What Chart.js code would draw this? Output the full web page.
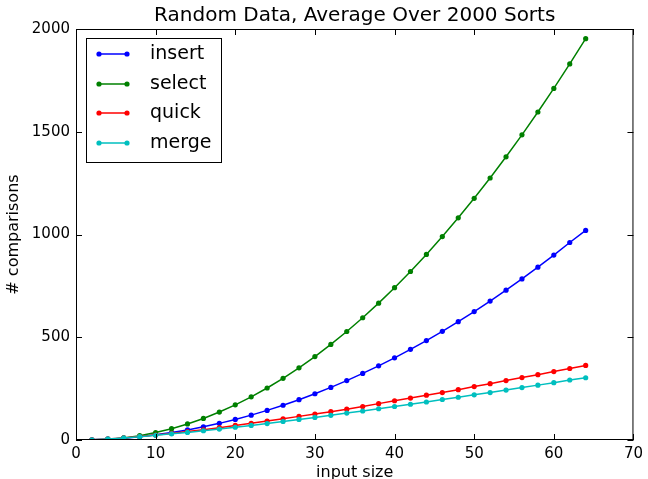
<!DOCTYPE html>
<html>
<head>
<meta charset="utf-8">
<script src="https://cdn.jsdelivr.net/npm/chart.js@4.4.1/dist/chart.umd.min.js"></script>
<style>
  html, body { margin: 0; padding: 0; background: #fff; }
  canvas { display: block; }
</style>
</head>
<body>
<canvas id="myChart" width="648" height="479"></canvas>
<script>
// input sizes (x) and average comparison counts
const sizes  = [2, 4, 6, 8, 10, 12, 14, 16, 18, 20, 22, 24, 26, 28, 30, 32,
                34, 36, 38, 40, 42, 44, 46, 48, 50, 52, 54, 56, 58, 60, 62, 64];
const insert = [1, 4, 9, 16, 25, 36, 49, 64, 81, 100, 121, 144, 169, 196, 225, 256,
                289, 324, 361, 400, 441, 484, 529, 576, 625, 676, 729, 784, 841, 900, 961, 1020];
const select = [0, 3, 10, 21, 36, 55, 78, 105, 136, 171, 210, 253, 300, 351, 406, 465,
                528, 595, 666, 741, 820, 903, 990, 1081, 1176, 1275, 1378, 1485, 1596, 1711, 1830, 1953];
const quick  = [1, 5, 10, 17, 24, 32, 41, 50, 60, 71, 81, 92, 103, 115, 126, 138,
                150, 163, 177, 191, 204, 218, 231, 245, 260, 274, 289, 304, 318, 333, 348, 363];
const merge  = [1, 5, 10, 16, 23, 30, 37, 45, 53, 62, 71, 80, 90, 100, 110, 120,
                131, 141, 152, 163, 174, 185, 197, 208, 220, 231, 243, 255, 267, 279, 292, 303];

const seriesNames  = ['insert', 'select', 'quick', 'merge'];
const seriesColors = ['#0000ff', '#008000', '#ff0000', '#00bfbf'];
const xTicks = [0, 10, 20, 30, 40, 50, 60, 70];
const yTicks = [0, 500, 1000, 1500, 2000];

const FONT = 'DejaVu Sans';

const toPoints = (vals) => sizes.map((s, i) => ({x: s, y: vals[i]}));

// box round the axes, inward ticks on all sides, and the legend in the corner
const framePlugin = {
  id: 'frame',
  afterDatasetsDraw(chart) {
    const {ctx, chartArea: a, scales: {x, y}} = chart;
    const tl = 6;
    ctx.save();
    ctx.strokeStyle = '#000';
    ctx.lineWidth = 1;
    ctx.strokeRect(a.left + 0.5, a.top + 0.5, a.right - a.left - 1, a.bottom - a.top - 1);
    ctx.beginPath();
    xTicks.forEach(v => {
      const px = Math.round(x.getPixelForValue(v)) + 0.5;
      ctx.moveTo(px, a.bottom); ctx.lineTo(px, a.bottom - tl);
      ctx.moveTo(px, a.top); ctx.lineTo(px, a.top + tl);
    });
    yTicks.forEach(v => {
      const py = Math.round(y.getPixelForValue(v)) + 0.5;
      ctx.moveTo(a.left, py); ctx.lineTo(a.left + tl, py);
      ctx.moveTo(a.right, py); ctx.lineTo(a.right - tl, py);
    });
    ctx.stroke();

    // legend
    const bx = 86, by = 38, bw = 135, bh = 124;
    ctx.fillStyle = '#fff';
    ctx.fillRect(bx, by, bw, bh);
    ctx.strokeRect(bx + 0.5, by + 0.5, bw, bh);
    const rows = [54, 84, 113, 143];
    ctx.font = '19px "' + FONT + '"';
    ctx.textBaseline = 'middle';
    ctx.textAlign = 'left';
    seriesNames.forEach((name, i) => {
      const ly = rows[i];
      ctx.strokeStyle = seriesColors[i];
      ctx.lineWidth = 1.5;
      ctx.beginPath();
      ctx.moveTo(99, ly); ctx.lineTo(127, ly);
      ctx.stroke();
      ctx.fillStyle = seriesColors[i];
      [99, 127].forEach(px => {
        ctx.beginPath();
        ctx.arc(px, ly, 2.6, 0, Math.PI * 2);
        ctx.fill();
      });
      ctx.fillStyle = '#000';
      ctx.fillText(name, 150, ly);
    });
    ctx.restore();
  }
};

const showChart = (canvas_id) => {
  const ctx = document.getElementById(canvas_id);
  const allSeries = [insert, select, quick, merge];
  new Chart(ctx, {
    type: 'line',
    data: {
      datasets: allSeries.map((vals, i) => ({
        label: seriesNames[i],
        data: toPoints(vals),
        borderColor: seriesColors[i],
        backgroundColor: seriesColors[i],
        borderWidth: 1.5,
        pointRadius: 2.6,
        pointBorderWidth: 0,
        pointHoverRadius: 2.6,
        tension: 0,
        order: 4 - i
      }))
    },
    options: {
      responsive: false,
      animation: false,
      events: [],
      layout: {padding: {left: 0, right: 12, top: 0, bottom: 0}},
      scales: {
        x: {
          type: 'linear',
          min: 0,
          max: 70,
          afterBuildTicks: (scale) => { scale.ticks = xTicks.map(v => ({value: v})); },
          afterFit: (scale) => { scale.height = 39; },
          grid: {display: false, drawTicks: false},
          border: {display: false},
          ticks: {padding: 5, color: '#000', font: {family: FONT, size: 15},
                  callback: (v) => String(v)},
          title: {display: true, text: 'input size', color: '#000',
                  font: {family: FONT, size: 16}, padding: {top: 0, bottom: -3}}
        },
        y: {
          min: 0,
          max: 2000,
          afterBuildTicks: (scale) => { scale.ticks = yTicks.map(v => ({value: v})); },
          afterFit: (scale) => { scale.width = 76; },
          grid: {display: false, drawTicks: false},
          border: {display: false},
          ticks: {padding: 6, color: '#000', font: {family: FONT, size: 15},
                  callback: (v) => String(v)},
          title: {display: true, text: '# comparisons', color: '#000',
                  font: {family: FONT, size: 16}, padding: {top: 4, bottom: 0}}
        }
      },
      plugins: {
        legend: {display: false},
        tooltip: {enabled: false},
        title: {
          display: true,
          fullSize: false,
          text: 'Random Data, Average Over 2000 Sorts',
          color: '#000',
          font: {family: FONT, size: 20, weight: 'normal'},
          padding: {top: 4, bottom: 1}
        }
      }
    },
    plugins: [framePlugin]
  });
};

showChart('myChart');
</script>
</body>
</html>
